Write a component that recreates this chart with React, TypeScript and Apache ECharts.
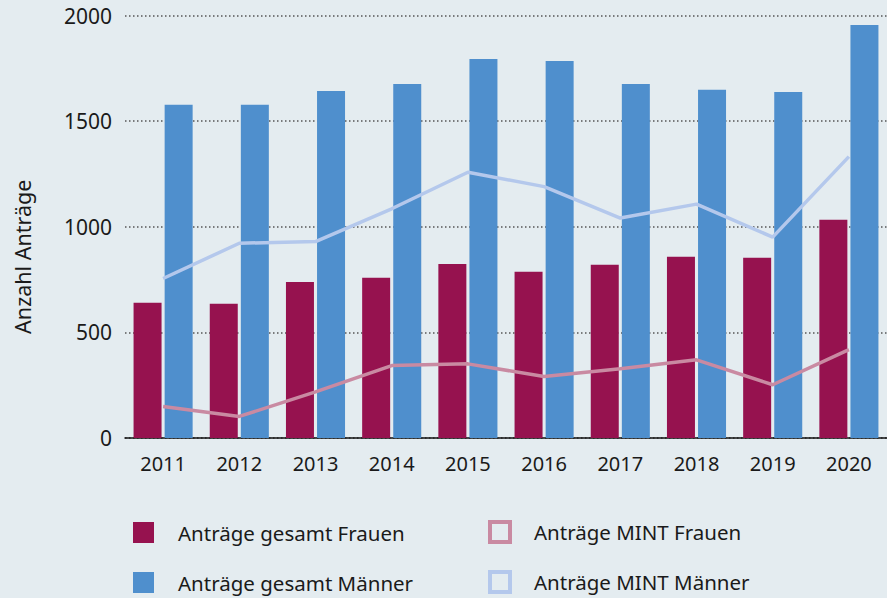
import React, { useEffect, useRef } from "react";
import * as echarts from "echarts";

const years = ["2011", "2012", "2013", "2014", "2015", "2016", "2017", "2018", "2019", "2020"];
const gesamtFrauen = [640, 635, 739, 758, 824, 787, 820, 858, 853, 1033];
const gesamtMaenner = [1577, 1577, 1643, 1676, 1794, 1785, 1676, 1648, 1638, 1955];
const mintFrauen = [149, 102, 218, 343, 351, 291, 328, 370, 252, 418];
const mintMaenner = [755, 922, 930, 1085, 1258, 1190, 1041, 1107, 951, 1332];
const yTicks = { min: 0, max: 2000, interval: 500 };

const FONT = "'Noto Sans', sans-serif";
const BG = "#E4ECF0";
const C_FRAUEN = "#96124F";
const C_MAENNER = "#4F8FCD";
const C_MINT_F = "#C98AA2";
const C_MINT_M = "#B4C8EC";

export default function App() {
  const ref = useRef<HTMLDivElement>(null);
  useEffect(() => {
    document.body.style.margin = "0";
    const chart = echarts.init(ref.current!, undefined, { renderer: "svg" });
    chart.setOption({
      animation: false,
      backgroundColor: BG,
      textStyle: { fontFamily: FONT },
      grid: { left: 125, right: 0, top: 15.5, bottom: 160, containLabel: false },
      legend: [
        {
          orient: "vertical",
          left: 133,
          top: 522,
          padding: 0,
          itemWidth: 21,
          itemHeight: 21,
          itemGap: 29,
          icon: "rect",
          textStyle: { fontSize: 20.5, lineHeight: 21, color: "#1a1a1a", fontFamily: FONT, padding: [0, 0, 0, 19] },
          data: ["Anträge gesamt Frauen", "Anträge gesamt Männer"],
        },
        {
          orient: "vertical",
          left: 488,
          top: 520,
          padding: 0,
          itemWidth: 20,
          itemHeight: 20,
          itemGap: 26,
          textStyle: { fontSize: 20.5, lineHeight: 20, color: "#1a1a1a", fontFamily: FONT, padding: [0, 0, 0, 19] },
          data: [
            { name: "Anträge MINT Frauen", icon: "rect", itemStyle: { color: BG, borderColor: C_MINT_F, borderWidth: 4 } },
            { name: "Anträge MINT Männer", icon: "rect", itemStyle: { color: BG, borderColor: C_MINT_M, borderWidth: 4 } },
          ],
        },
      ],
      xAxis: {
        type: "category",
        data: years,
        axisTick: { show: false },
        axisLine: { lineStyle: { color: "#111", width: 1.5 } },
        axisLabel: { fontSize: 20, color: "#1a1a1a", margin: 15, fontFamily: FONT },
      },
      yAxis: {
        type: "value",
        min: yTicks.min,
        max: yTicks.max,
        interval: yTicks.interval,
        name: "Anzahl Anträge",
        nameLocation: "middle",
        nameGap: 92,
        nameTextStyle: { fontSize: 21.5, color: "#1a1a1a", fontFamily: FONT, padding: [0, 60, 0, 0] },
        axisLine: { show: false },
        axisTick: { show: false },
        axisLabel: {
          fontSize: 21,
          color: "#1a1a1a",
          margin: 13,
          fontFamily: FONT,
          formatter: (v: number) => String(v),
        },
        splitLine: { lineStyle: { color: "#555", width: 1.5, type: [1.5, 2.5] } },
      },
      series: [
        {
          name: "Anträge gesamt Frauen",
          type: "bar",
          data: gesamtFrauen,
          barWidth: 28,
          barGap: "11%",
          itemStyle: { color: C_FRAUEN },
        },
        {
          name: "Anträge gesamt Männer",
          type: "bar",
          data: gesamtMaenner,
          barWidth: 28,
          barGap: "11%",
          itemStyle: { color: C_MAENNER },
        },
        {
          name: "Anträge MINT Frauen",
          type: "line",
          data: mintFrauen,
          showSymbol: false,
          symbol: "none",
          z: 5,
          lineStyle: { color: C_MINT_F, width: 3.5 },
          itemStyle: { color: C_MINT_F },
        },
        {
          name: "Anträge MINT Männer",
          type: "line",
          data: mintMaenner,
          showSymbol: false,
          symbol: "none",
          z: 5,
          lineStyle: { color: C_MINT_M, width: 3.5 },
          itemStyle: { color: C_MINT_M },
        },
      ],
    });
    return () => chart.dispose();
  }, []);
  return <div ref={ref} style={{ position: "absolute", left: 0, top: 0, width: 887, height: 598 }} />;
}
